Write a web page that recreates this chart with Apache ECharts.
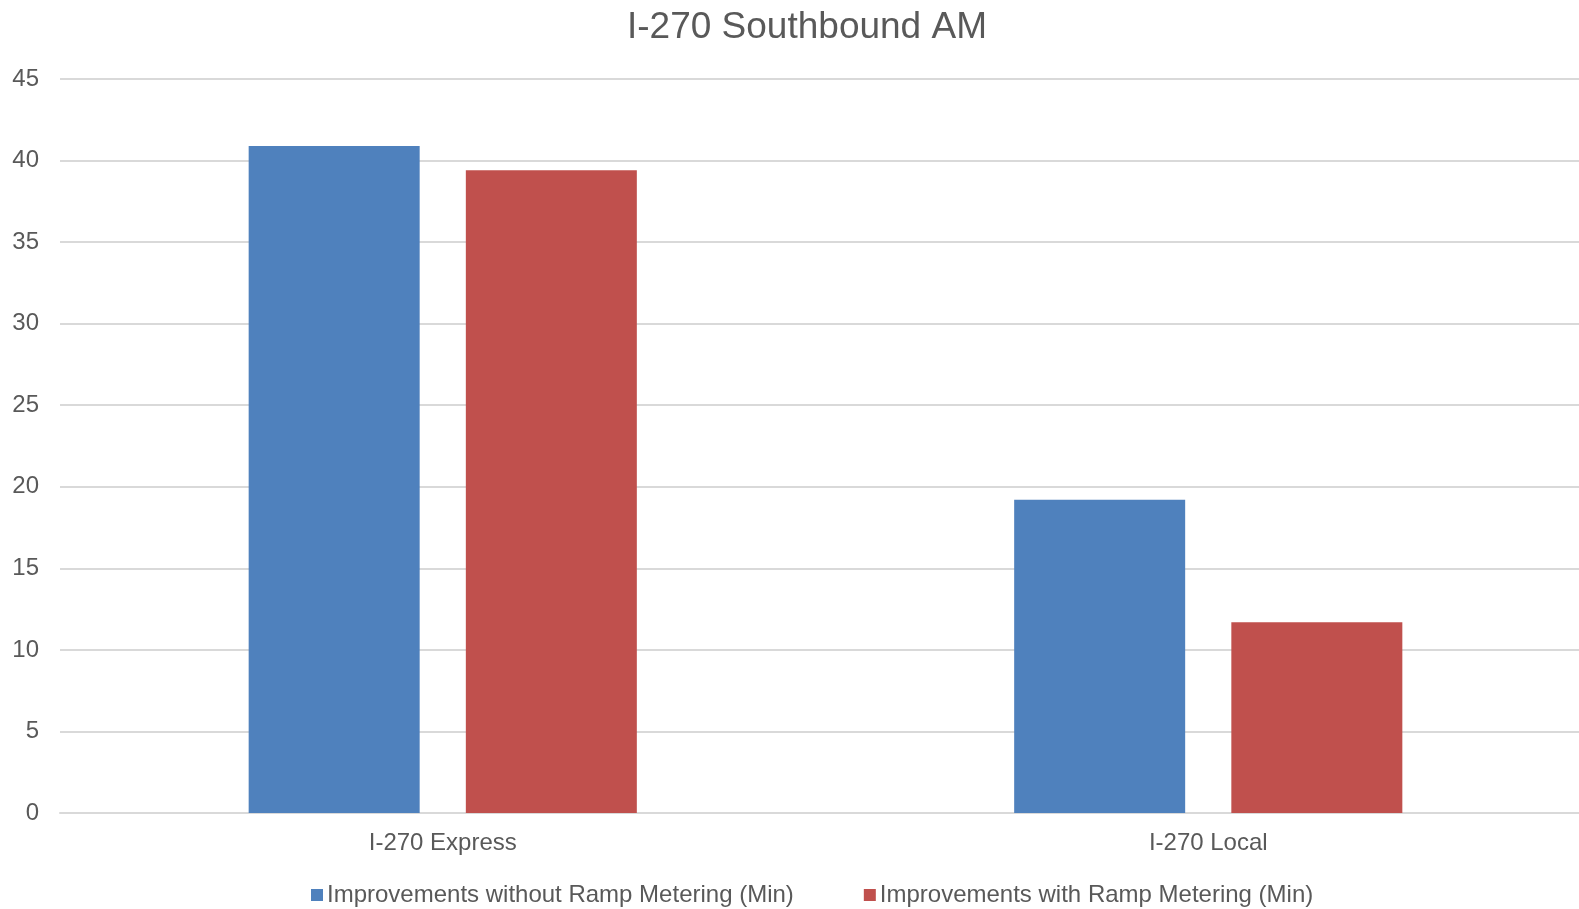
<!DOCTYPE html>
<html>
<head>
<meta charset="utf-8">
<script src="https://cdn.jsdelivr.net/npm/echarts@6/dist/echarts.min.js"></script>
<style>
  html, body { margin: 0; padding: 0; background: #ffffff; overflow: hidden; }
  /* canvas is a little wider than the window so the plot area bleeds off the right edge */
  #chart { width: 1591px; height: 909px; }
</style>
</head>
<body>
<div id="chart"></div>
<script>
// Travel-time improvements, I-270 southbound morning peak (minutes)
const categories = ['I-270 Express', 'I-270 Local'];
const withoutRampMetering = [40.9, 19.2];
const withRampMetering = [39.4, 11.7];
const seriesNames = ['Improvements without Ramp Metering (Min)', 'Improvements with Ramp Metering (Min)'];
const yTicks = { min: 0, max: 45, interval: 5 };

const FONT = '"Liberation Sans", Arial, sans-serif';
const TEXT = '#595959';

const chart = echarts.init(document.getElementById('chart'), null, { renderer: 'canvas' });
chart.setOption({
  animation: false,
  backgroundColor: '#ffffff',
  title: {
    text: 'I-270 Southbound AM',
    left: 622,
    top: 4,
    textStyle: { fontFamily: FONT, fontSize: 37, fontWeight: 'normal', color: TEXT }
  },
  legend: {
    data: seriesNames,
    left: 306,
    top: 878,
    icon: 'rect',
    itemWidth: 12,
    itemHeight: 12,
    itemGap: 70,
    textStyle: { fontFamily: FONT, fontSize: 24, color: TEXT, padding: [0, 0, 0, -1] }
  },
  grid: { left: 60, right: 0, top: 79, bottom: 96, containLabel: false },
  xAxis: {
    type: 'category',
    data: categories,
    axisLine: { show: true, lineStyle: { color: '#d9d9d9', width: 2 } },
    axisTick: { show: false },
    axisLabel: { margin: 18, fontFamily: FONT, fontSize: 24, color: TEXT }
  },
  yAxis: {
    type: 'value',
    min: yTicks.min,
    max: yTicks.max,
    interval: yTicks.interval,
    axisLine: { show: false },
    axisTick: { show: false },
    axisLabel: { margin: 21, fontFamily: FONT, fontSize: 24, color: TEXT },
    splitLine: { lineStyle: { color: '#d9d9d9', width: 2 } }
  },
  series: [
    {
      name: seriesNames[0],
      type: 'bar',
      data: withoutRampMetering,
      barWidth: 171,
      barGap: '27%',
      itemStyle: { color: '#4f81bd' }
    },
    {
      name: seriesNames[1],
      type: 'bar',
      data: withRampMetering,
      barWidth: 171,
      barGap: '27%',
      itemStyle: { color: '#c0504d' }
    }
  ]
});
</script>
</body>
</html>
